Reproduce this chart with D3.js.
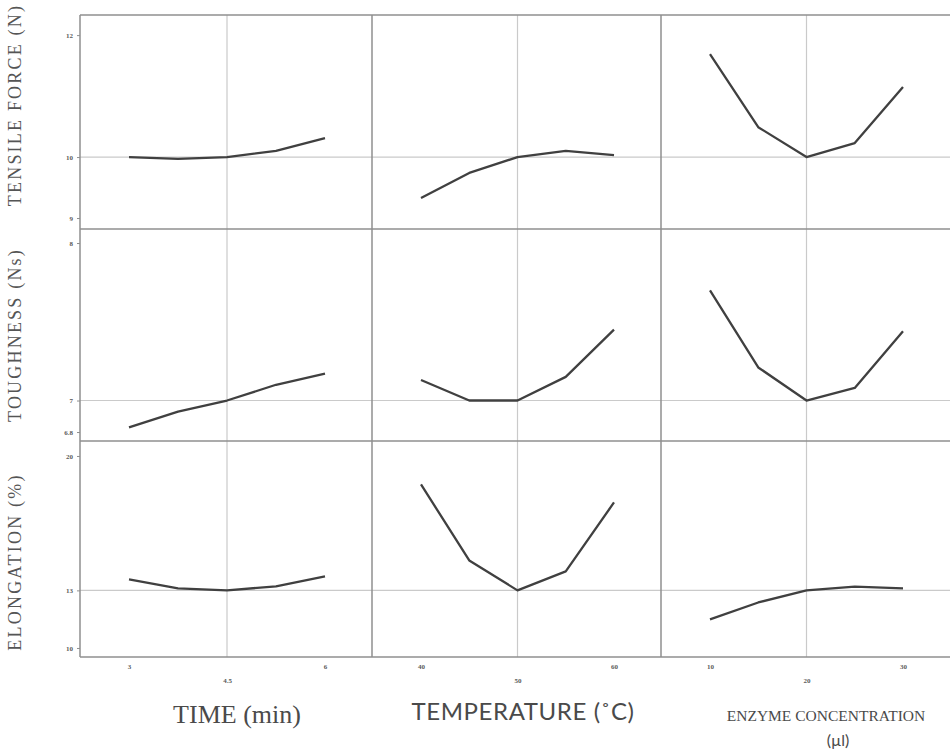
<!DOCTYPE html>
<html>
<head>
<meta charset="utf-8">
<script src="https://cdn.jsdelivr.net/npm/d3@7"></script>
<style>
  html, body { margin: 0; padding: 0; background: #ffffff; }
  svg { display: block; }
</style>
</head>
<body>
<svg id="chart" width="950" height="751"></svg>
<script>
// Factor levels (x) for each column of the profiler
const timeLevels   = [3, 3.75, 4.5, 5.25, 6];
const tempLevels   = [40, 45, 50, 55, 60];
const enzymeLevels = [10, 15, 20, 25, 30];

const timeTicks   = [3, 4.5, 6];
const tempTicks   = [40, 50, 60];
const enzymeTicks = [10, 20, 30];

const factorNames = ["TIME (min)", "TEMPERATURE (˚C)", "ENZYME CONCENTRATION"];
const responseNames = ["TENSILE FORCE (N)", "TOUGHNESS (Ns)", "ELONGATION (%)"];

// Response tick labels (min, current, max)
const tensileTicks    = [9, 10, 12];
const toughnessTicks  = [6.8, 7, 8];
const elongationTicks = [10, 13, 20];

// Predicted responses along each factor
const tensileVsTime     = [10.00, 9.97, 10.00, 10.10, 10.31];
const tensileVsTemp     = [9.33, 9.74, 10.00, 10.10, 10.03];
const tensileVsEnzyme   = [11.69, 10.49, 10.00, 10.23, 11.15];

const toughVsTime       = [6.83, 6.93, 7.00, 7.10, 7.17];
const toughVsTemp       = [7.13, 7.00, 7.00, 7.15, 7.45];
const toughVsEnzyme     = [7.70, 7.21, 7.00, 7.08, 7.44];

const elongVsTime       = [13.57, 13.10, 13.00, 13.21, 13.73];
const elongVsTemp       = [18.52, 14.56, 13.00, 13.99, 17.58];
const elongVsEnzyme     = [11.49, 12.37, 13.00, 13.20, 13.10];

// ---- layout ----
const colEdges = [80, 372, 661, 950];
const rowEdges = [15, 229, 441, 657];
const insetL = 49, insetR = 47;

const svg = d3.select("#chart");

const levels = [timeLevels, tempLevels, enzymeLevels];
const xTicks = [timeTicks, tempTicks, enzymeTicks];
const yTicks = [tensileTicks, toughnessTicks, elongationTicks];
const yDomains = [[8.82, 12.33], [6.743, 8.089], [9.53, 20.78]];
const series = [
  [tensileVsTime, tensileVsTemp, tensileVsEnzyme],
  [toughVsTime, toughVsTemp, toughVsEnzyme],
  [elongVsTime, elongVsTemp, elongVsEnzyme]
];

const xScales = xTicks.map((t, c) =>
  d3.scaleLinear().domain([t[0], t[2]]).range([colEdges[c] + insetL, colEdges[c + 1] - insetR]));
const yScales = yDomains.map((d, r) =>
  d3.scaleLinear().domain(d).range([rowEdges[r + 1], rowEdges[r]]));

const gridColor = "#cacaca";
const frameColor = "#8f8f8f";
const lineColor = "#404040";
const tickText = "#5a5a5a";

// Vertical current-value lines in each column
xScales.forEach((xs, c) => {
  svg.append("line")
    .attr("x1", xs(xTicks[c][1])).attr("x2", xs(xTicks[c][1]))
    .attr("y1", rowEdges[0]).attr("y2", rowEdges[3])
    .attr("stroke", gridColor).attr("stroke-width", 1.2);
});

// Horizontal current-value lines across each row
yScales.forEach((ys, r) => {
  svg.append("line")
    .attr("x1", colEdges[0]).attr("x2", colEdges[3])
    .attr("y1", ys(yTicks[r][1])).attr("y2", ys(yTicks[r][1]))
    .attr("stroke", gridColor).attr("stroke-width", 1.2);
});

// Panel frame
rowEdges.forEach(y => {
  svg.append("line").attr("x1", colEdges[0]).attr("x2", colEdges[3])
    .attr("y1", y).attr("y2", y)
    .attr("stroke", frameColor).attr("stroke-width", 1.5);
});
colEdges.slice(0, 3).forEach(x => {
  svg.append("line").attr("x1", x).attr("x2", x)
    .attr("y1", rowEdges[0]).attr("y2", rowEdges[3])
    .attr("stroke", frameColor).attr("stroke-width", 1.5);
});

// Profile traces
const line = (xs, ys) => d3.line().x(d => xs(d[0])).y(d => ys(d[1]));
series.forEach((rowSeries, r) => {
  rowSeries.forEach((vals, c) => {
    const pts = levels[c].map((lv, i) => [lv, vals[i]]);
    svg.append("path")
      .datum(pts)
      .attr("d", line(xScales[c], yScales[r]))
      .attr("fill", "none")
      .attr("stroke", lineColor)
      .attr("stroke-width", 2.3)
      .attr("stroke-linejoin", "round");
  });
});

// Y axes (left)
yScales.forEach((ys, r) => {
  const g = svg.append("g").attr("transform", `translate(${colEdges[0]},0)`);
  g.call(d3.axisLeft(ys).tickValues(yTicks[r]).tickSize(3).tickPadding(4)
    .tickFormat(d3.format("~g")));
  g.select(".domain").remove();
  g.selectAll(".tick line").attr("stroke", frameColor);
  g.selectAll(".tick text")
    .attr("fill", tickText)
    .style("font-family", "'Liberation Serif', serif")
    .style("font-size", "7px")
    .style("font-weight", "bold");
});

// X axes (bottom), middle label dropped lower
xScales.forEach((xs, c) => {
  const g = svg.append("g").attr("transform", `translate(0,${rowEdges[3]})`);
  g.call(d3.axisBottom(xs).tickValues(xTicks[c]).tickSize(0).tickPadding(7)
    .tickFormat(d3.format("~g")));
  g.select(".domain").remove();
  g.selectAll(".tick text")
    .attr("fill", tickText)
    .attr("dy", (d, i) => i === 1 ? "2.7em" : "0.71em")
    .style("font-family", "'Liberation Serif', serif")
    .style("font-size", "7px")
    .style("font-weight", "bold");
});

// Response titles (rotated)
const yTitleCentres = [105, 335, 562];
responseNames.forEach((name, r) => {
  svg.append("text")
    .attr("transform", `translate(21,${yTitleCentres[r]}) rotate(-90)`)
    .attr("text-anchor", "middle")
    .attr("fill", "#555")
    .style("font-family", "'Liberation Serif', serif")
    .style("font-size", "18px")
    .style("letter-spacing", "2.2px")
    .text(name);
});

// Factor titles
svg.append("text")
  .attr("x", 237).attr("y", 723)
  .attr("text-anchor", "middle")
  .attr("fill", "#4a4a4a")
  .style("font-family", "'Liberation Serif', serif")
  .style("font-size", "26px")
  .text(factorNames[0]);

svg.append("text")
  .attr("x", 523).attr("y", 720)
  .attr("text-anchor", "middle")
  .attr("fill", "#4a4a4a")
  .style("font-family", "Lato, sans-serif")
  .style("font-size", "24px")
  .style("letter-spacing", "0.6px")
  .text(factorNames[1]);

svg.append("text")
  .attr("x", 826).attr("y", 721)
  .attr("text-anchor", "middle")
  .attr("fill", "#4a4a4a")
  .style("font-family", "'Liberation Serif', serif")
  .style("font-size", "15.5px")
  .text(factorNames[2]);

svg.append("text")
  .attr("x", 838).attr("y", 746)
  .attr("text-anchor", "middle")
  .attr("fill", "#4a4a4a")
  .style("font-family", "Lato, sans-serif")
  .style("font-size", "16px")
  .text("(µl)");
</script>
</body>
</html>
